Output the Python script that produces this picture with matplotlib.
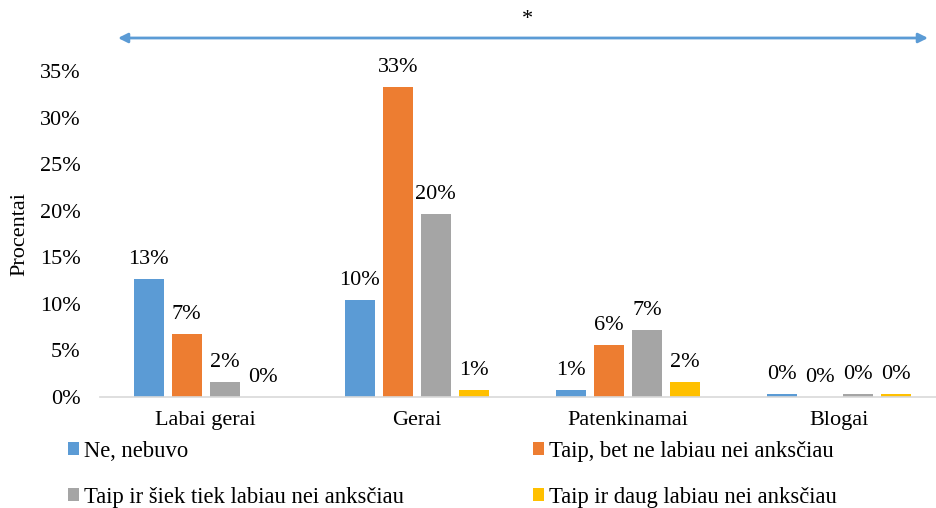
import matplotlib
matplotlib.use('Agg')
import matplotlib.pyplot as plt
import numpy as np
from matplotlib.ticker import PercentFormatter


# Duomenys (procentai)
categories = ['Labai gerai', 'Gerai', 'Patenkinamai', 'Blogai']
series = ['Ne, nebuvo', 'Taip, bet ne labiau nei anksčiau',
          'Taip ir šiek tiek labiau nei anksčiau', 'Taip ir daug labiau nei anksčiau']
ne_nebuvo = [12.7, 10.4, 0.8, 0.3]
taip_ne_labiau = [6.8, 33.3, 5.6, 0.0]
taip_siek_tiek = [1.6, 19.7, 7.2, 0.3]
taip_daug = [0.0, 0.8, 1.6, 0.3]

colors = ['#5B9BD5', '#ED7D31', '#A5A5A5', '#FFC000']

plt.rcParams['font.family'] = ['Liberation Serif', 'DejaVu Serif']
fs = 16

fig = plt.figure(figsize=(9.36, 5.08), dpi=100)
ax = fig.add_axes([0.107, 0.2185, 0.893, 0.6417])

x = np.arange(len(categories))
width = 0.142
step = 0.18

handles = []
for i, (vals, name) in enumerate(zip([ne_nebuvo, taip_ne_labiau, taip_siek_tiek, taip_daug], series)):
    vals = np.array(vals) / 100.0
    bars = ax.bar(x + (i - 1.5) * step, vals, width, color=colors[i], label=name)
    ax.bar_label(bars, labels=['{:.0f}%'.format(v * 100) for v in vals],
                 padding=7, fontsize=fs, clip_on=False)
    handles.append(bars)

ax.set_xlim(-0.5, 3.46)
ax.set_ylim(0, 0.35)
ax.set_yticks(np.arange(0, 0.36, 0.05))
ax.yaxis.set_major_formatter(PercentFormatter(1.0, decimals=0))
ax.set_xticks(x)
ax.set_xticklabels(categories)
ax.tick_params(axis='both', length=0, labelsize=fs)
ax.tick_params(axis='x', pad=10)
ax.tick_params(axis='y', pad=14)

for s in ['top', 'right', 'left']:
    ax.spines[s].set_visible(False)
ax.spines['bottom'].set_color('#D9D9D9')
ax.spines['bottom'].set_linewidth(1.2)

ax.set_ylabel('Procentai', fontsize=fs)
ax.yaxis.set_label_coords(-0.085, 0.5)

# Rodyklė su žvaigždute
ax.annotate('', xy=(928 / 936, 1 - 38 / 508), xytext=(118 / 936, 1 - 38 / 508),
            xycoords='figure fraction', textcoords='figure fraction',
            arrowprops=dict(arrowstyle='<|-|>', color='#5B9BD5', lw=2,
                            mutation_scale=14, shrinkA=0, shrinkB=0))
fig.text(527 / 936, 1 - 19 / 508, '*', ha='center', va='center', fontsize=fs)

# legenda eilutėmis: (0, 1) viršuje, (2, 3) apačioje
order = [0, 2, 1, 3]
fig.legend([handles[k] for k in order], [series[k] for k in order],
           loc='upper left', bbox_to_anchor=(0.0727, 0.132), ncol=2, frameon=False,
           fontsize=16.3, handlelength=0.5, handleheight=0.5, handletextpad=0.2,
           labelspacing=1.1, columnspacing=5.7, borderaxespad=0, borderpad=0)

fig.savefig('out.png', dpi=100)
